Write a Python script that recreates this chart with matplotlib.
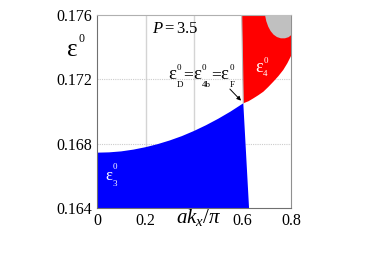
import matplotlib
matplotlib.use("Agg")
import matplotlib.pyplot as plt

plt.rcParams['font.family'] = ['Liberation Serif', 'DejaVu Serif']
plt.rcParams['mathtext.fontset'] = 'custom'
plt.rcParams['mathtext.rm'] = 'Liberation Serif'
plt.rcParams['mathtext.it'] = 'Liberation Serif:italic'

# band eps_3 (blue): upper edge, then right edge down to axis
kx_blue = [0.0, 0.05, 0.1, 0.15, 0.2, 0.25, 0.3, 0.35, 0.4, 0.45, 0.5, 0.55, 0.6033, 0.627]
e_blue = [0.16744, 0.16746, 0.16752, 0.16763, 0.16778, 0.16797, 0.16820, 0.16847,
          0.16879, 0.16915, 0.16955, 0.16999, 0.17051, 0.164]

# band eps_4 (red): left edge from top to tip, then lower edge to kx=0.8
kx_red = [0.5967, 0.6033, 0.625, 0.645, 0.665, 0.686, 0.706, 0.727, 0.748, 0.768, 0.785, 0.8, 0.8]
e_red = [0.176, 0.17051, 0.17064, 0.17082, 0.17101, 0.17123, 0.17152, 0.17185,
         0.17220, 0.17258, 0.17300, 0.17345, 0.176]

# grey patch in upper right corner
kx_grey = [0.6928, 0.698, 0.706, 0.716, 0.728, 0.742, 0.758, 0.775, 0.79, 0.8, 0.8]
e_grey = [0.176, 0.17562, 0.17528, 0.17500, 0.17478, 0.17463, 0.17455, 0.17455,
          0.17462, 0.17474, 0.176]

xticks = [0, 0.2, 0.4, 0.6, 0.8]
xticklabels = ['0', '0.2', '', '0.6', '0.8']
yticks = [0.164, 0.168, 0.172, 0.176]
yticklabels = ['0.164', '0.168', '0.172', '0.176']

fig = plt.figure(figsize=(3.82, 2.67), dpi=100)
ax = fig.add_axes([97/382, 59/267, 194/382, 193/267])

for x in [0.2, 0.4]:
    ax.axvline(x, color='#d4d4d4', lw=1.0, zorder=0)
for y in [0.168, 0.172]:
    ax.axhline(y, color='#cccccc', lw=0.8, ls=(0, (1, 1)), zorder=0)

ax.fill(kx_blue + [0.0], e_blue + [0.164], color='#0000ff', lw=0, zorder=2)
ax.fill(kx_red, e_red, color='#ff0000', lw=0, zorder=2)
ax.fill(kx_grey, e_grey, color='#c0c0c0', lw=0, zorder=3)
ax.plot(kx_red[:2], e_red[:2], color='#bbbbbb', lw=0.8, zorder=3)

ax.set_xlim(0, 0.8)
ax.set_ylim(0.164, 0.176)
ax.set_xticks(xticks)
ax.set_xticklabels(xticklabels)
ax.set_yticks(yticks)
ax.set_yticklabels(yticklabels)
ax.tick_params(length=0, labelsize=11.5, pad=3.5)

for s in ['left', 'bottom']:
    ax.spines[s].set_color('#707070')
ax.spines['right'].set_color('#909090')
ax.spines['top'].set_color('#b0b0b0')
ax.spines['top'].set_linestyle((0, (1, 1)))


def piece(s, prev, y, ycoords, size, dx=0.0, dy=0.0, color='black'):
    return ax.annotate(s, xy=(1, y), xycoords=(prev, ycoords), xytext=(dx, dy),
                       textcoords='offset points', fontsize=size, color=color,
                       ha='left', va='baseline', annotation_clip=False)


def eps(x, y, sup, sub, trans, ycoords, size, isize, up, down, color='black'):
    e = ax.text(x, y, 'ε', fontsize=size, color=color, ha='left', va='baseline',
                transform=trans, clip_on=False)
    piece(sup, e, y, ycoords, isize, dx=0.5, dy=up, color=color)
    if sub:
        return piece(sub, e, y, ycoords, isize, dx=0.5, dy=down, color=color)
    return e


# y label
eps(-0.155, 0.788, '0', '', ax.transAxes, 'axes fraction', 18, 8.5, 10, 0)
# x label
fig.text(199/382, 1 - 218/267, r'$ak_{x}/\pi$', fontsize=15, ha='center', va='center')

ax.text(0.2268, 0.17488, r'$P\mathrm{=3.5}$', fontsize=12, ha='left', va='baseline')

# eps_D = eps_4b = eps_F
t = eps(0.2928, 0.172, '0', 'D', ax.transData, 'data', 13.5, 6.5, 6.5, -5.5)
t = piece('=', t, 0.172, 'data', 12.5, dx=0.2)
t2 = ax.annotate('ε', xy=(1, 0.172), xycoords=(t, 'data'), fontsize=13.5,
                 ha='left', va='baseline')
piece('0', t2, 0.172, 'data', 6.5, dx=0.5, dy=6.5)
t = piece('4b', t2, 0.172, 'data', 6.5, dx=0.5, dy=-5.5)
t = piece('=', t, 0.172, 'data', 12.5, dx=0.2)
t3 = ax.annotate('ε', xy=(1, 0.172), xycoords=(t, 'data'), fontsize=13.5,
                 ha='left', va='baseline')
piece('0', t3, 0.172, 'data', 6.5, dx=0.5, dy=6.5)
piece('F', t3, 0.172, 'data', 6.5, dx=0.5, dy=-5.5)

ax.annotate('', xy=(0.602, 0.17055), xytext=(0.54, 0.17152),
            arrowprops=dict(arrowstyle='-|>', color='black', lw=0.7, mutation_scale=6))

eps(0.6515, 0.17246, '0', '4', ax.transData, 'data', 13, 6.5, 6.5, -3, color='white')
eps(0.033, 0.16574, '0', '3', ax.transData, 'data', 12, 6.5, 8, -4, color='white')

fig.savefig('out.png', dpi=100)
